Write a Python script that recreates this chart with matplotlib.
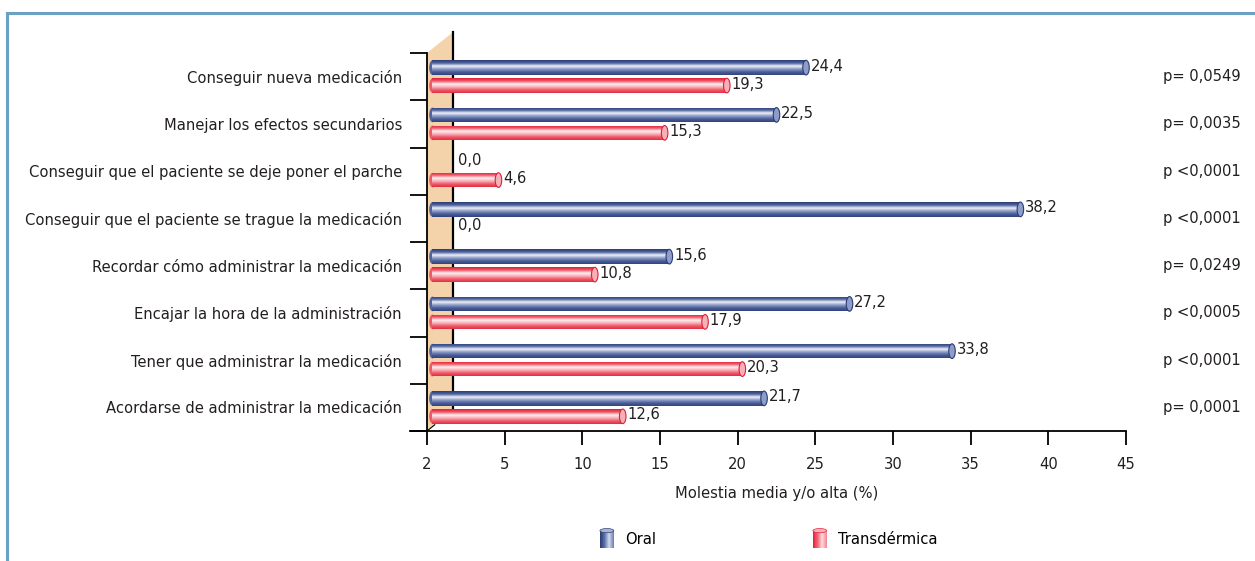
import numpy as np
import matplotlib
matplotlib.use("Agg")
import matplotlib.pyplot as plt
from matplotlib.patches import Polygon, Ellipse, Rectangle
from matplotlib.lines import Line2D
from matplotlib.legend_handler import HandlerBase
from matplotlib.colors import to_rgb

# ------------------------------------------------------------
# datos
# ------------------------------------------------------------
categories = [
    "Conseguir nueva medicación",
    "Manejar los efectos secundarios",
    "Conseguir que el paciente se deje poner el parche",
    "Conseguir que el paciente se trague la medicación",
    "Recordar cómo administrar la medicación",
    "Encajar la hora de la administración",
    "Tener que administrar la medicación",
    "Acordarse de administrar la medicación",
]
oral = [24.4, 22.5, 0.0, 38.2, 15.6, 27.2, 33.8, 21.7]
transdermica = [19.3, 15.3, 4.6, 0.0, 10.8, 17.9, 20.3, 12.6]
p_values = ["p= 0,0549", "p= 0,0035", "p <0,0001", "p <0,0001",
            "p= 0,0249", "p <0,0005", "p <0,0001", "p= 0,0001"]
x_ticks = [0, 5, 10, 15, 20, 25, 30, 35, 40, 45]
x_tick_labels = ["2", "5", "10", "15", "20", "25", "30", "35", "40", "45"]
series_names = ["Oral", "Transdérmica"]

# ------------------------------------------------------------
# estilo
# ------------------------------------------------------------
plt.rcParams['font.family'] = ['DejaVu Sans']
plt.rcParams['font.stretch'] = 'condensed'
TXT = '#231f20'
FS = 11.8
BLUE = ['#2b3c74', '#5064a0', '#eef1f8', '#8d9cc8', '#4a5d96', '#31447d']
RED = ['#de1f37', '#ee5a6a', '#fff0f1', '#f8b0b8', '#ef5a69', '#e22d42']
WALL = '#f5d3aa'
WALL_D = 1.67      # profundidad de la pared 3D (unidades de datos)
WALL_H = 0.44      # desplazamiento vertical de la pared (filas)
BAR_H = 0.31
OFF = 0.19


def gradient(stops, n=64):
    cols = np.array([to_rgb(c) for c in stops])
    pos = np.linspace(0, 1, len(cols))
    t = np.linspace(0, 1, n)
    return np.stack([np.interp(t, pos, cols[:, k]) for k in range(3)], axis=1)


class CylinderHandler(HandlerBase):
    def __init__(self, stops):
        super().__init__()
        self.stops = stops

    def create_artists(self, legend, orig, xd, yd, w, h, fontsize, trans):
        g = gradient(self.stops, 16)
        arts = []
        cw = 10
        x0 = xd + (w - cw) / 2
        for i, c in enumerate(g):
            r = Rectangle((x0 + i * cw / len(g), yd - 3), cw / len(g) + 0.2, h + 4,
                          facecolor=c, edgecolor='none', transform=trans)
            arts.append(r)
        top = Ellipse((x0 + cw / 2, yd + h + 1), cw, 3, facecolor=g[8],
                      edgecolor=g[0], lw=0.5, transform=trans)
        arts.append(top)
        return arts


fig = plt.figure(figsize=(12.55, 5.61), dpi=100)
ax = fig.add_axes([427 / 1255, 130 / 561, 699 / 1255, 378 / 561])

y = np.arange(len(categories))
bars_o = ax.barh(y - OFF, oral, height=BAR_H, color=BLUE[1], edgecolor='none', zorder=3)
bars_t = ax.barh(y + OFF, transdermica, height=BAR_H, color=RED[1], edgecolor='none', zorder=3)

# efecto cilindro: degradado recortado a cada barra + tapa elíptica
for bars, stops in ((bars_o, BLUE), (bars_t, RED)):
    g = gradient(stops)[:, None, :]
    for p in bars:
        w = p.get_width()
        if w <= 0:
            continue
        x0, y0, h = p.get_x() + 0.35, p.get_y(), p.get_height()
        p.set_x(x0)
        p.set_width(w - 0.35)
        im = ax.imshow(g, extent=(x0, x0 + w - 0.35, y0 + h, y0), aspect='auto',
                       origin='upper', zorder=3.1)
        im.set_clip_path(p)
        ax.add_patch(Ellipse((x0 + w - 0.35, y0 + h / 2), 0.42, h, facecolor=stops[3],
                             edgecolor=stops[0], lw=0.8, zorder=3.2))
        ax.add_patch(Ellipse((x0, y0 + h / 2), 0.42, h, facecolor=stops[1],
                             edgecolor='none', zorder=3.0))

# etiquetas de valor
for vals, off in ((oral, -OFF), (transdermica, OFF)):
    for i, v in enumerate(vals):
        ax.text(max(v, WALL_D) + 0.3, i + off - 0.03, f"{v:.1f}".replace('.', ','),
                ha='left', va='center', fontsize=FS, color=TXT, zorder=5)

# valores p
for i, s in enumerate(p_values):
    ax.text(47.4, i, s, ha='left', va='center', fontsize=FS, color=TXT, clip_on=False)

ax.set_xlim(0, 45)
ax.set_ylim(len(categories) - 0.5, -0.5)

# pared 3D
y_top, y_bot = -0.5, len(categories) - 0.5
wall = Polygon([(0, y_bot), (0, y_top), (WALL_D, y_top - WALL_H), (WALL_D, y_bot - WALL_H)],
               closed=True, facecolor=WALL, edgecolor='none', zorder=1, clip_on=False)
ax.add_patch(wall)
ax.plot([WALL_D, WALL_D], [y_top - WALL_H, y_bot - WALL_H], color='black', lw=1.6,
        zorder=2, clip_on=False)
ax.plot([0, WALL_D * 0.3], [y_bot, y_bot - WALL_H * 0.3], color='black', lw=0.8,
        zorder=2, clip_on=False)

# ejes
for s in ('top', 'right'):
    ax.spines[s].set_visible(False)
ax.spines['left'].set_linewidth(1.3)
ax.spines['bottom'].set_linewidth(1.3)
ax.spines['bottom'].set_bounds(-WALL_D * 0.65, 45)
ax.set_xticks(x_ticks)
ax.set_xticklabels(x_tick_labels, fontsize=FS, color=TXT)
ax.tick_params(axis='x', length=10, width=1.3, pad=9)
ax.set_yticks(y)
ax.set_yticklabels(categories, fontsize=FS, color=TXT)
ax.tick_params(axis='y', length=0, pad=18)
ax.set_yticks(np.arange(len(categories) + 1) - 0.5, minor=True)
ax.tick_params(axis='y', which='minor', length=12, width=1.3)
ax.set_xlabel("Molestia media y/o alta (%)", fontsize=FS, color=TXT, labelpad=10)

# leyenda
handles = [Rectangle((0, 0), 1, 1), Rectangle((0, 0), 1, 1)]
fig.legend(handles, series_names, loc='center', bbox_to_anchor=(768 / 1255, 1 - 539 / 561),
           ncol=2, frameon=False, fontsize=FS, columnspacing=9.5, handlelength=1.0,
           handletextpad=0.6,
           handler_map={handles[0]: CylinderHandler(['#2f4178', '#5b6ea8', '#dfe4f2', '#7083ba']),
                        handles[1]: CylinderHandler(['#e2273c', '#f0606f', '#fde6e8', '#f48b97'])})

# marco
fig.add_artist(Line2D([7 / 1255, 7 / 1255], [0, 1 - 13 / 561], color='#6aa2c4', lw=2.2))
fig.add_artist(Line2D([7 / 1255, 1], [1 - 13 / 561, 1 - 13 / 561], color='#6aa2c4', lw=2.2))

fig.savefig("out.png", dpi=100)
